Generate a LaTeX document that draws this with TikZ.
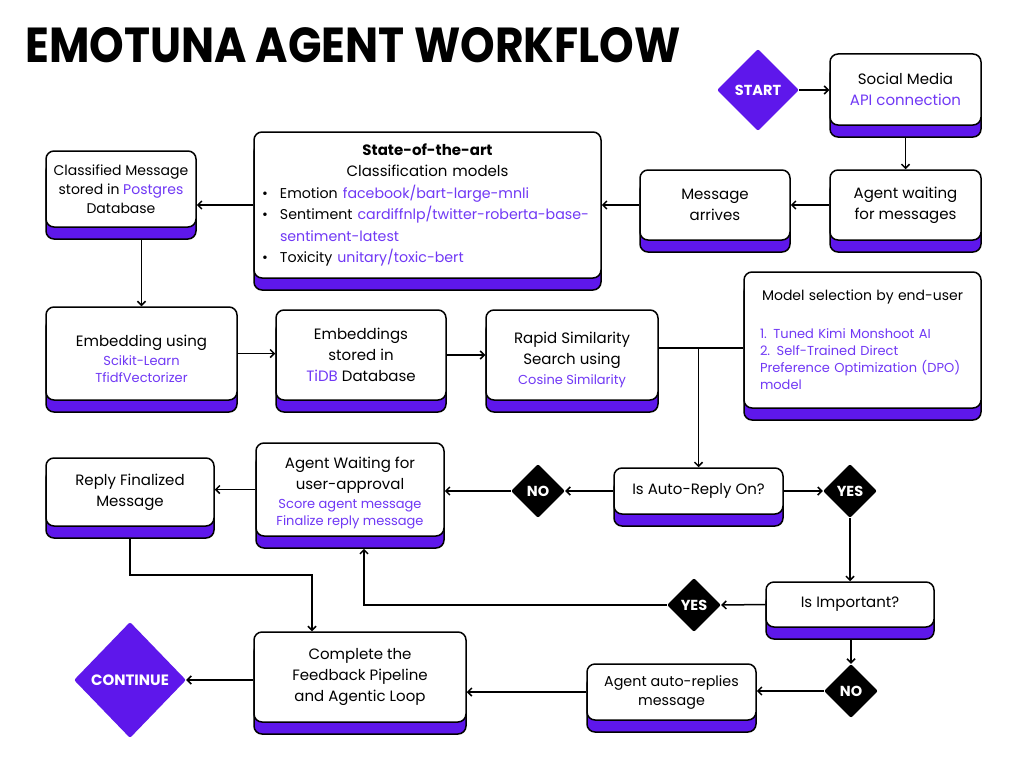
\documentclass[tikz,border=0pt]{standalone}
\usepackage{fontspec}
\usepackage{graphicx}
\setmainfont{Poppins}
\usetikzlibrary{shapes.geometric,arrows.meta,shadows,backgrounds}
\definecolor{purp}{HTML}{5E17EB}
\definecolor{tp}{HTML}{7038F5}
\newcommand{\fa}{\fontsize{15}{21}\selectfont}
\newcommand{\fsm}{\fontsize{13}{17}\selectfont}
\newcommand{\fli}{\fontsize{14.2}{21.5}\selectfont}
\newcommand{\pu}[1]{\textcolor{tp}{#1}}
\newcommand{\dn}[1]{\rule{0pt}{#1}}
\begin{document}
\begin{tikzpicture}[x=1pt,y=-1pt,
 box/.style={draw=black, line width=1.5pt, fill=white, rounded corners=8pt, align=center, inner sep=4pt, font=\fa,
   general shadow={fill=purp, draw=black, line width=1.5pt, shadow yshift=-12pt}},
 dia/.style={diamond, aspect=1, inner sep=0pt, fill=black, text=white, font=\fontsize{14.5}{14}\selectfont\bfseries, rounded corners=2pt},
 arr/.style={line width=1.5pt, -{Straight Barb[length=4pt,width=8pt]}},
 ln/.style={line width=1.5pt}]
\useasboundingbox (0,0) rectangle (1024,768);
% title
\node[anchor=base west, inner sep=0pt] (title) at (25,62) {\resizebox{655pt}{35pt}{\bfseries EMOTUNA AGENT WORKFLOW}};
% top row
\node[dia, fill=purp, minimum width=82pt, minimum height=82pt, font=\fontsize{14.5}{14}\selectfont\bfseries] (start) at (758,90) {START};
\node[box, minimum width=151pt, minimum height=71pt] (sm) at (905.5,89.5) {Social Media\\\pu{API connection}};
\node[box, minimum width=151pt, minimum height=70pt] (wm) at (905.5,205) {Agent waiting\\for messages};
\node[box, minimum width=150pt, minimum height=70pt] (ma) at (715,205) {Message\\arrives};
\node[box, align=left, text width=331pt, inner xsep=8pt, minimum width=347pt, minimum height=146pt, font=\fontsize{15}{21.5}\selectfont] (sa) at (427.5,205)
 {\makebox[331pt][c]{\bfseries State-of-the-art}\\
  \makebox[331pt][c]{Classification models}\\
  \mbox{\fli\makebox[18pt][l]{•}Emotion \pu{facebook/bart-large-mnli}}\\
  \mbox{\fli\makebox[18pt][l]{•}Sentiment \pu{cardiffnlp/twitter-roberta-base-}}\\
  \mbox{\fli\hspace*{18pt}\pu{sentiment-latest}}\\
  \mbox{\fli\makebox[18pt][l]{•}Toxicity \pu{unitary/toxic-bert}}};
\node[box, minimum width=150pt, minimum height=76pt, font=\fontsize{14}{21}\selectfont] (cm) at (121,189)
 {Classified Message\\[-2pt]stored in \pu{Postgres}\\[-2pt]Database};
% middle row
\node[box, minimum width=191pt, minimum height=93pt] (emb) at (141.5,353.5)
 {\dn{23pt}Embedding using\\[-2pt]{\fsm\pu{Scikit-Learn}}\\[-4pt]{\fsm\pu{TfidfVectorizer}}};
\node[box, minimum width=170pt, minimum height=90pt] (es) at (361,355)
 {Embeddings\\stored in\\\pu{TiDB} Database};
\node[box, minimum width=172pt, minimum height=90pt] (rs) at (572,355)
 {\dn{22pt}Rapid Similarity\\Search using\\[-1pt]{\fsm\pu{Cosine Similarity}}};
\node[box, align=left, text width=205pt, inner xsep=16pt, minimum width=237pt, minimum height=136pt, font=\fontsize{13}{17}\selectfont] (ms) at (862.5,340)
 {\makebox[205pt][c]{\fontsize{14}{17}\selectfont Model selection by end-user}\\[21pt]
  \pu{1. Tuned Kimi Monshoot AI}\\
  \pu{2. Self-Trained Direct}\\
  \pu{Preference Optimization (DPO)}\\
  \pu{model}};
% decision row
\node[box, minimum width=169pt, minimum height=46pt] (ar) at (698.5,491) {Is Auto-Reply On?};
\node[dia, minimum width=54pt, minimum height=54pt] (yes1) at (850,491) {YES};
\node[dia, minimum width=54pt, minimum height=54pt] (no1) at (538,491) {NO};
\node[box, minimum width=188pt, minimum height=93pt] (ua) at (350,489.5)
 {\dn{19pt}Agent Waiting for\\user-approval\\[-2pt]{\fsm\pu{Score agent message}}\\[-4pt]{\fsm\pu{Finalize reply message}}};
\node[box, minimum width=168pt, minimum height=68pt] (rf) at (130,492) {Reply Finalized\\Message};
% bottom
\node[box, minimum width=168pt, minimum height=45pt] (ii) at (850,604.5) {Is Important?};
\node[dia, minimum width=54pt, minimum height=54pt] (yes2) at (694,605) {YES};
\node[dia, minimum width=54pt, minimum height=54pt] (no2) at (851,691) {NO};
\node[box, minimum width=169pt, minimum height=56pt, font=\fontsize{14.3}{19}\selectfont] (aa) at (671.5,692) {Agent auto-replies\\message};
\node[box, minimum width=212pt, minimum height=90pt] (cp) at (360,677) {Complete the\\Feedback Pipeline\\and Agentic Loop};
\node[dia, fill=purp, minimum width=112pt, minimum height=116pt, font=\fontsize{15}{15}\selectfont\bfseries] (cont) at (130,680) {CONTINUE};
% connectors
\begin{scope}[on background layer]
\fill[white] (0,0) rectangle (1024,768);
\draw[arr] (start.east) -- (sm.west |- start.east);
\draw[arr] (sm.south) -- (wm.north);
\draw[arr] (wm.west) -- (ma.east);
\draw[arr] (ma.west) -- (sa.east |- ma.west);
\draw[arr] (sa.west) -- (cm.east |- sa.west);
\draw[arr] (cm.south -| emb.north) -- (emb.north);
\draw[arr] (emb.east) -- (es.west |- emb.east);
\draw[arr] (es.east) -- (rs.west |- es.east);
\coordinate (rsj) at ([yshift=7pt]rs.east);
\draw[ln] (rsj) -- (ms.west |- rsj);
\draw[arr] (ar.north |- rsj) -- (ar.north);
\draw[arr] (ar.west) -- (no1.east);
\draw[arr] (no1.west) -- (ua.east |- no1.west);
\draw[arr] (ua.west) -- (rf.east |- ua.west);
\draw[arr] (ar.east) -- (yes1.west);
\draw[arr] (yes1.south) -- (ii.north -| yes1.south);
\draw[arr] (ii.west) -- (yes2.east);
\draw[arr] (yes2.west) -| ([shift={(14pt,-12pt)}]ua.south);
\draw[arr] (rf.south) -- (rf.south |- 0,575) -| ([xshift=-48pt]cp.north);
\draw[arr] (no2.north |- ii.south) -- (no2.north);
\draw[arr] (no2.west) -- (aa.east |- no2.west);
\draw[arr] (aa.west) -- (cp.east |- aa.west);
\draw[arr] (cp.west |- cont.east) -- (cont.east);
\end{scope}
\end{tikzpicture}
\end{document}
